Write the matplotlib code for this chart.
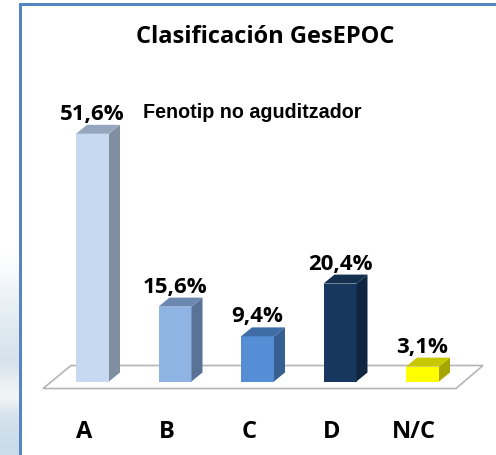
import matplotlib
matplotlib.use('Agg')
import matplotlib.pyplot as plt
from matplotlib.patches import Polygon, Rectangle

W, H = 496, 456
categories = ['A', 'B', 'C', 'D', 'N/C']
values = [51.6, 15.6, 9.4, 20.4, 3.1]
labels = ['51,6%', '15,6%', '9,4%', '20,4%', '3,1%']
front_colors = ['#c6d9f1', '#8eb4e3', '#558ed5', '#17375e', '#ffff00']
side_colors = ['#7f8ea0', '#5a7296', '#376092', '#10253f', '#a6a600']
top_colors = ['#94a7bf', '#6a88b0', '#3f6ca5', '#13304f', '#c8c800']
# background photo strip, top to bottom (y 240 to 456)
strip_colors = ['#ffffff', '#fbfcfd', '#f4f7fa', '#edf2f6', '#e6eef4', '#dfe9f0', '#dae6ee',
                '#d6e3ec', '#e8eef2', '#f2f5f7', '#d8e4ee', '#cfdfeb', '#cbdce9']

font = ['Open Sans', 'DejaVu Sans']

fig = plt.figure(figsize=(W / 100, H / 100), dpi=100)
fig.patch.set_facecolor('white')

bg = fig.add_axes([0, 0, 20 / W, 1 - 240 / H])
bg.imshow([[matplotlib.colors.to_rgb(s)] for s in strip_colors], aspect='auto', interpolation='bilinear')
bg.axis('off')

# full figure axes, 1 unit = 82.5 px across and 1 % = 4.8 px up
ax = fig.add_axes([0, 0, 1, 1])
ax.set_xlim(-92.5 / 82.5, (W - 92.5) / 82.5)
ax.set_ylim(-(H - 382.5) / 4.8, 382.5 / 4.8)
ax.axis('off')
ax.patch.set_alpha(0)

bar_w = 33 / 82.5
dx = 11 / 82.5
dy = 9 / 4.8
left = -bar_w / 2

# frame
fig.add_artist(Rectangle((19 / W, 0), 3 / W, 1 - 4 / H, transform=fig.transFigure, color='#5585c0', lw=0))
fig.add_artist(Rectangle((19 / W, 1 - 7 / H), 1 - 19 / W, 3 / H, transform=fig.transFigure, color='#5585c0', lw=0))

# floor
fl = 82.5
floor = [((43 - 92.5) / fl, -7 / 4.8), ((456 - 92.5) / fl, -7 / 4.8),
         ((483 - 92.5) / fl, 16 / 4.8), ((71 - 92.5) / fl, 16 / 4.8)]
ax.add_patch(Polygon(floor, closed=True, fc='white', ec='#b5b5b5', lw=1.2, zorder=1))

for i, v in enumerate(values):
    ax.bar(i, v, width=bar_w, color=front_colors[i], zorder=3)
    l, r = i + left, i - left
    ax.add_patch(Polygon([(r, 0), (r + dx, dy), (r + dx, v + dy), (r, v)],
                         closed=True, fc=side_colors[i], lw=0, zorder=3))
    ax.add_patch(Polygon([(l, v), (r, v), (r + dx, v + dy), (l + dx, v + dy)],
                         closed=True, fc=top_colors[i], lw=0, zorder=3))
    ax.text(i, v + dy + 0.2, labels[i], ha='center', va='bottom', fontsize=16,
            fontweight='bold', family=font, color='black', zorder=4)
    ax.text(i - 0.1, -(432 - 382) / 4.8, categories[i], ha='center', va='center', fontsize=17,
            fontweight='bold', family=font, color='black', zorder=4)

fig.text(265 / W, 1 - 37 / H, 'Clasificación GesEPOC', ha='center', va='center', fontsize=17,
         fontweight='bold', family=font)
fig.text(143 / W, 1 - 112 / H, 'Fenotip no aguditzador', ha='left', va='center', fontsize=14.2,
         fontweight='bold', family=['Liberation Sans', 'DejaVu Sans'])

fig.savefig('out.png', dpi=100)
